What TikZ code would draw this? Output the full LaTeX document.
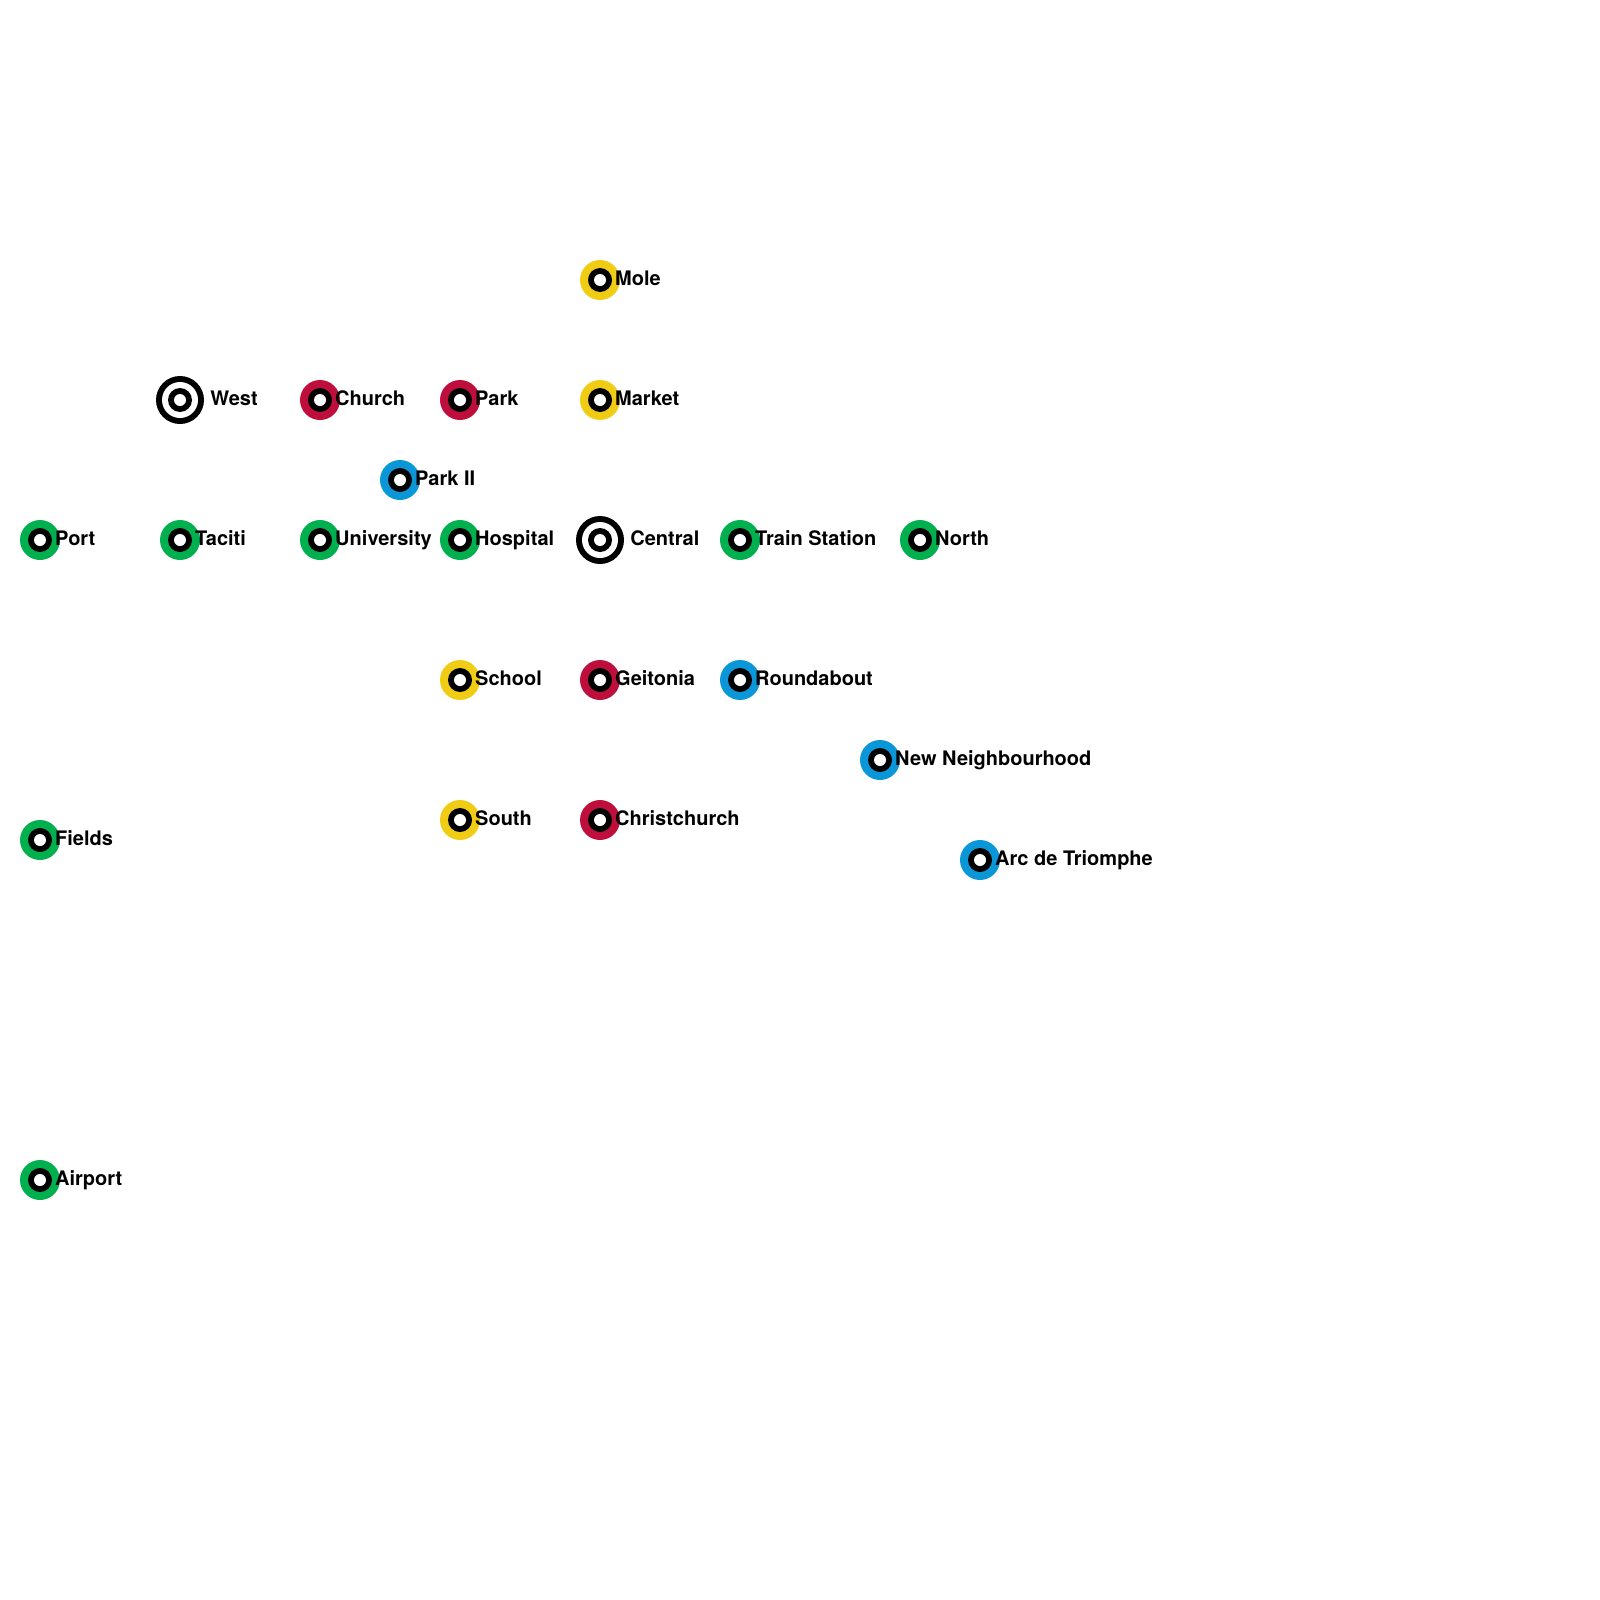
\documentclass[tikz,border=0pt]{standalone}
\usepackage{fontspec}
\setmainfont{TeX Gyre Heros}
\definecolor{lgreen}{HTML}{00B04F}
\definecolor{lred}{HTML}{BE0F3C}
\definecolor{lblue}{HTML}{0A96D7}
\definecolor{lyellow}{HTML}{F0CD14}
\tikzset{
  disc/.style={circle,inner sep=0pt,outer sep=0pt,draw=none,minimum size=#1*1pt},
  stationlabel/.style={anchor=base west,inner sep=0pt,font=\bfseries\fontsize{10}{12}\selectfont,text=black}
}
% colour-line station: \stn{id}{x}{y}{colour}{label}
\newcommand{\stn}[5]{%
  \node[disc=20,fill=#4] (#1o) at (#2*0.5,-#3*0.5) {};
  \node[disc=12,fill=black] (#1b) at (#1o) {};
  \node[disc=6,fill=white] (#1w) at (#1o) {};
  \node[stationlabel] (#1t) at (#2*0.5+7.4,-#3*0.5-2.9) {#5};
}
% interchange station
\newcommand{\xstn}[4]{%
  \node[disc=24,fill=black] (#1o) at (#2*0.5,-#3*0.5) {};
  \node[disc=18,fill=white] (#1r) at (#1o) {};
  \node[disc=12,fill=black] (#1b) at (#1o) {};
  \node[disc=6,fill=white] (#1w) at (#1o) {};
  \node[stationlabel] (#1t) at (#2*0.5+15,-#3*0.5-2.9) {#4};
}
\begin{document}
\begin{tikzpicture}[x=1pt,y=1pt]
\useasboundingbox (0,0) rectangle (800,-800);
\fill[white] (0,0) rectangle (800,-800);
\stn{mole}{600}{280}{lyellow}{Mole}
\xstn{west}{180}{400}{West}
\stn{church}{320}{400}{lred}{Church}
\stn{park}{460}{400}{lred}{Park}
\stn{market}{600}{400}{lyellow}{Market}
\stn{parkii}{400}{480}{lblue}{Park II}
\stn{port}{40}{540}{lgreen}{Port}
\stn{taciti}{180}{540}{lgreen}{Taciti}
\stn{univ}{320}{540}{lgreen}{University}
\stn{hosp}{460}{540}{lgreen}{Hospital}
\xstn{central}{600}{540}{Central}
\stn{train}{740}{540}{lgreen}{Train Station}
\stn{north}{920}{540}{lgreen}{North}
\stn{school}{460}{680}{lyellow}{School}
\stn{geit}{600}{680}{lred}{Geitonia}
\stn{round}{740}{680}{lblue}{Roundabout}
\stn{newn}{880}{760}{lblue}{New Neighbourhood}
\stn{south}{460}{820}{lyellow}{South}
\stn{christ}{600}{820}{lred}{Christchurch}
\stn{arc}{980}{860}{lblue}{Arc de Triomphe}
\stn{fields}{40}{840}{lgreen}{Fields}
\stn{airport}{40}{1180}{lgreen}{Airport}
\end{tikzpicture}
\end{document}
